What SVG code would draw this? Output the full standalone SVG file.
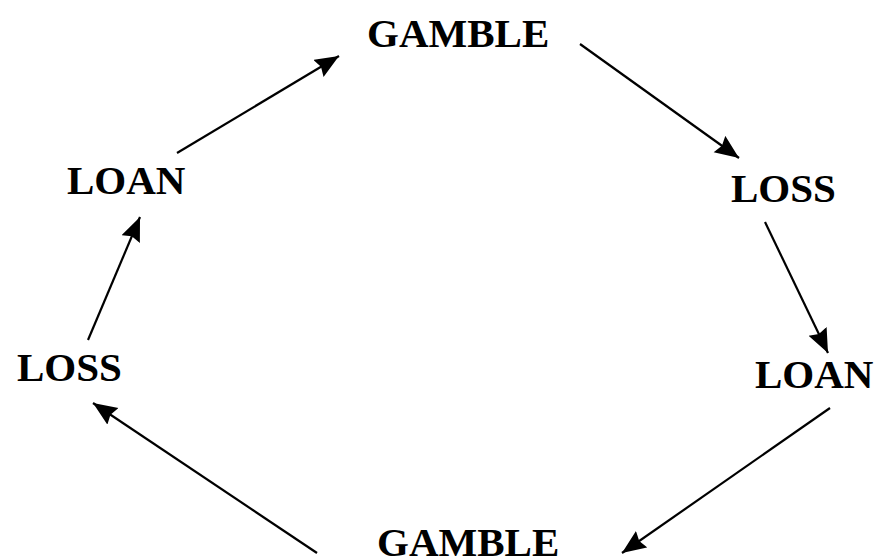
<svg xmlns="http://www.w3.org/2000/svg" width="876" height="559" viewBox="0 0 876 559">
<style>
text{font-family:"Liberation Serif","Times New Roman",serif;font-weight:bold;font-size:41px;fill:#000}
.c line{stroke:#000;stroke-width:2.2;fill:none}
</style>
<defs>
<marker id="ah" markerUnits="userSpaceOnUse" markerWidth="28" markerHeight="24" refX="24" refY="10" orient="auto">
<path d="M0,0 L24,10 L0,20 L3,10 Z" fill="#000"/>
</marker>
</defs>
<rect width="876" height="559" fill="#fff"/>
<g id="gamble-top"><text x="367" y="47">GAMBLE</text></g>
<g id="loss-right"><text x="731" y="202">LOSS</text></g>
<g id="loan-right"><text x="755" y="388">LOAN</text></g>
<g id="gamble-bottom"><text x="377" y="556">GAMBLE</text></g>
<g id="loss-left"><text x="17" y="381">LOSS</text></g>
<g id="loan-left"><text x="67" y="194">LOAN</text></g>
<g id="connectors" class="c">
<line x1="177" y1="153" x2="339" y2="56" marker-end="url(#ah)"/>
<line x1="580" y1="44" x2="739" y2="158" marker-end="url(#ah)"/>
<line x1="765" y1="222" x2="828" y2="353" marker-end="url(#ah)"/>
<line x1="830" y1="408" x2="622" y2="553" marker-end="url(#ah)"/>
<line x1="317" y1="553" x2="93" y2="403" marker-end="url(#ah)"/>
<line x1="88" y1="340" x2="140" y2="217" marker-end="url(#ah)"/>
</g>
</svg>
